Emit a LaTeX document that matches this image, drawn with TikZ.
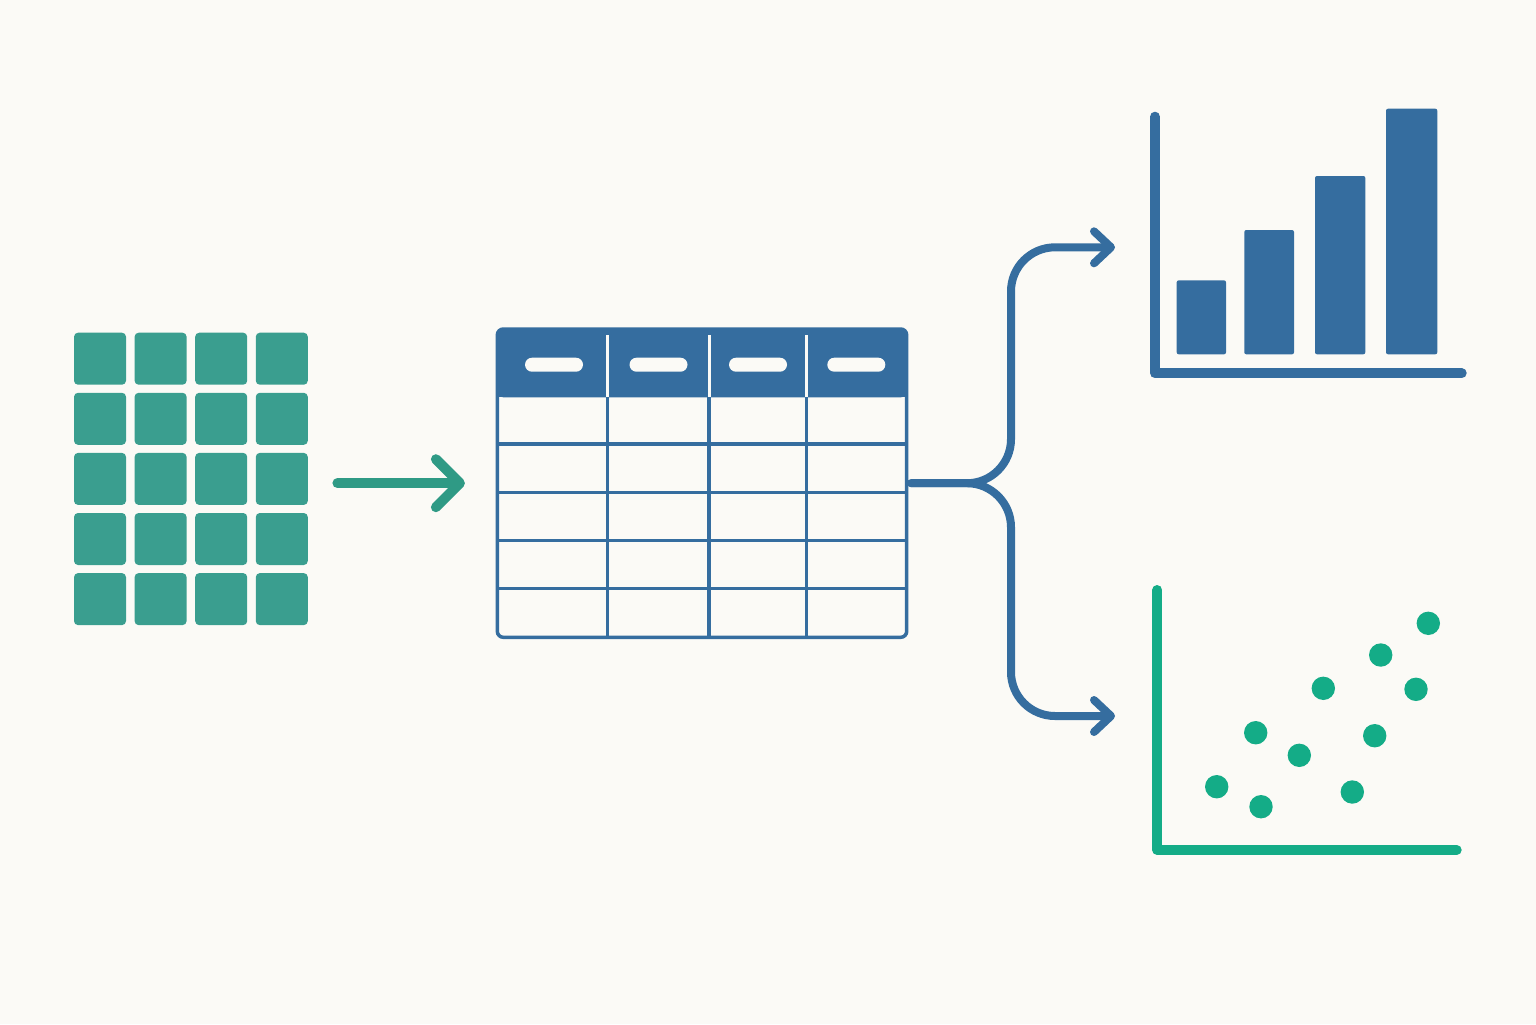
\documentclass[tikz,border=0pt]{standalone}
\usetikzlibrary{arrows.meta}
\definecolor{bgc}{HTML}{FBFAF6}
\definecolor{teal1}{HTML}{3A9E8F}
\definecolor{teal2}{HTML}{2F9A85}
\definecolor{tblue}{HTML}{356D9F}
\definecolor{sgreen}{HTML}{14AC87}
\tikzset{
  sq/.style={fill=teal1, rounded corners=2pt},
  tline/.style={draw=tblue, line width=1.75pt},
  conn/.style={draw=tblue, line width=4pt, line cap=round, line join=round, rounded corners=22pt,
    shorten <=2pt,
    -{Straight Barb[length=8.5pt, width=16pt, line cap=round, line join=round]}},
  tealarrow/.style={draw=teal2, line width=5pt, line cap=round, line join=round,
    -{Straight Barb[length=12pt, width=24pt, line cap=round, line join=round]}},
  bar/.style={fill=tblue, rounded corners=1pt},
  axisb/.style={draw=tblue, line width=5pt, line cap=round, line join=round},
  axisg/.style={draw=sgreen, line width=5pt, line cap=round, line join=round},
  dot/.style={fill=sgreen},
  pill/.style={fill=bgc, rounded corners=3.5pt}
}
\begin{document}
\begin{tikzpicture}[x=0.5pt,y=-0.5pt]
\fill[bgc] (0,0) rectangle (1536,1024);
\useasboundingbox (0,0) rectangle (1536,1024);
% grid of squares
\node[inner sep=0, minimum width=116.5pt, minimum height=146pt] (grid) at (190.5,479) {};
\foreach \i in {0,...,3}{
  \foreach \j in {0,...,4}{
    \fill[sq] ({74+60.6*\i},{332.7+60.1*\j}) rectangle ++(52,52);
  }
}
% table
\node[inner sep=0, minimum width=204.7pt, minimum height=154.2pt] (tbl) at (702,483.2) {};
\fill[tblue, rounded corners=3pt] (497.3,329) rectangle (906.7,397.3);
\fill[tblue] (497.3,360) rectangle (906.7,397.3);
\foreach \x in {607.3,709,806.7}{
  \draw[bgc, line width=1.5pt] (\x,335) -- (\x,397.3);
  \draw[tline] (\x,397.3) -- (\x,637.3);
}
\foreach \y in {444,492.3,540.7,588.3}{
  \draw[tline] (497.3,\y) -- (906.7,\y);
}
\draw[tline, rounded corners=3pt] (497.3,329) rectangle (906.7,637.3);
\foreach \x in {554,658.5,758,856.3}{
  \fill[pill] ({\x-29},357.7) rectangle ({\x+29},371.7);
}
% teal arrow
\draw[tealarrow] ([xshift=15pt]grid.east |- tbl.west) -- ([xshift=-16pt]tbl.west);
% branch connectors
\coordinate (barIn) at (1115,247.3);
\coordinate (scatIn) at (1115,716);
\draw[conn] (tbl.east) -- (1011,483.2) -- (1011,247.3) -- (barIn);
\draw[conn] (tbl.east) -- (1011,483.2) -- (1011,716) -- (scatIn);
% bar chart
\fill[bar] (1176.7,280.3) rectangle (1226,354.3);
\fill[bar] (1244.3,230) rectangle (1294,354.3);
\fill[bar] (1315,176) rectangle (1365.3,354.3);
\fill[bar] (1386,108.7) rectangle (1437.3,354.3);
\draw[axisb] (1155,116.7) -- (1155,373.3) -- (1461.7,373.3);
% scatter chart
\draw[axisg] (1157.3,590) -- (1157.3,850) -- (1456.7,850);
\foreach \p in {(1428.3,623.3),(1380.7,655),(1323.3,688.3),(1416,689.3),(1255.7,732.7),(1374.7,735.7),(1299.3,755.3),(1216.7,786.7),(1261,806.7),(1352.3,792)}{
  \fill[dot] \p circle[radius=5.85pt];
}
\end{tikzpicture}
\end{document}
